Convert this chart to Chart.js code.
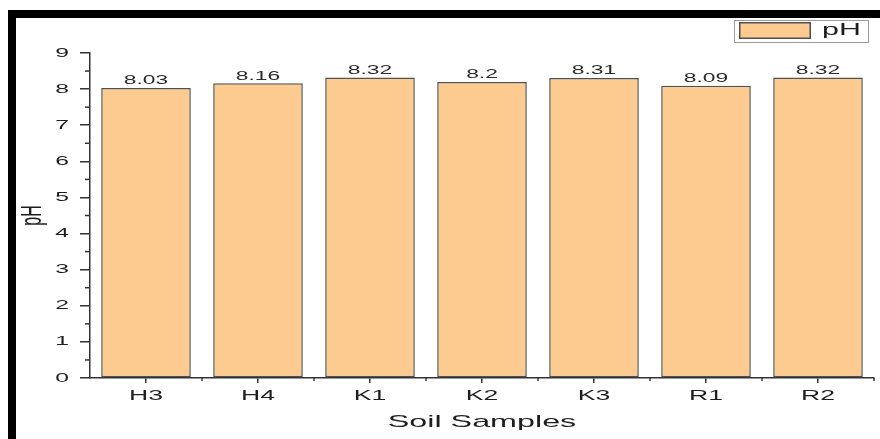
<!DOCTYPE html>
<html>
<head>
<meta charset="utf-8">
<script src="https://cdn.jsdelivr.net/npm/chart.js@4/dist/chart.umd.min.js"></script>
<style>
  html, body { margin: 0; padding: 0; background: #ffffff; }
  #wrap { width: 880px; height: 439px; position: relative; }
</style>
</head>
<body>
<div id="wrap"><canvas id="c" width="880" height="439"></canvas></div>
<script>
const categories = ["H3", "H4", "K1", "K2", "K3", "R1", "R2"];
const phValues = [8.03, 8.16, 8.32, 8.2, 8.31, 8.09, 8.32];
const seriesLabel = "pH";
const yTicks = [0, 1, 2, 3, 4, 5, 6, 7, 8, 9];
const xTitle = "Soil Samples";
const yTitle = "pH";

const FONT = "'Liberation Sans', Arial, sans-serif";
const BAR_FILL = "#FDCB90";
const BAR_EDGE = "#505050";
const AXIS = "#333333";
const TEXT = "#1e1e1e";
const SX = 1.9; // the reference picture is stretched horizontally

const canvas = document.getElementById("c");
const ctx2d = canvas.getContext("2d");
const origFill = ctx2d.fillText.bind(ctx2d);
ctx2d.fillText = function (t, x, y, w) {
  const M = this.getTransform();
  const p = M.transformPoint(new DOMPoint(x, y));
  this.save();
  const T = new DOMMatrix().translate(p.x, p.y).scale(SX, 1).translate(-p.x, -p.y).multiply(M);
  this.setTransform(T);
  if (w === undefined || w === null) origFill(t, x, y); else origFill(t, x, y, w);
  this.restore();
};

const decor = {
  id: "decor",
  beforeDraw(chart) {
    const ctx = chart.ctx;
    ctx.save();
    ctx.fillStyle = "#ffffff";
    ctx.fillRect(0, 0, chart.width, chart.height);
    ctx.fillStyle = "#000000";
    ctx.fillRect(8, 10, chart.width - 8, 8);
    ctx.fillRect(8, 10, 8, chart.height - 10);
    ctx.restore();
  },
  afterDraw(chart) {
    const ctx = chart.ctx;
    const ys = chart.scales.y;
    const area = chart.chartArea;
    ctx.save();
    // minor y ticks
    ctx.strokeStyle = AXIS;
    ctx.lineWidth = 1.5;
    for (let i = 0; i < yTicks.length - 1; i++) {
      const v = (yTicks[i] + yTicks[i + 1]) / 2;
      const py = ys.getPixelForValue(v);
      ctx.beginPath();
      ctx.moveTo(area.left - 5, py);
      ctx.lineTo(area.left, py);
      ctx.stroke();
    }
    // minor x ticks at category boundaries
    const step = (area.right - area.left) / categories.length;
    for (let i = 1; i <= categories.length; i++) {
      const px = area.left + step * i;
      ctx.beginPath();
      ctx.moveTo(px, area.bottom);
      ctx.lineTo(px, area.bottom + 3);
      ctx.stroke();
    }
    // value labels
    const meta = chart.getDatasetMeta(0);
    ctx.fillStyle = "#2a2a2a";
    ctx.font = "12px " + FONT;
    ctx.textAlign = "center";
    ctx.textBaseline = "bottom";
    meta.data.forEach((bar, i) => {
      ctx.fillText(String(phValues[i]), bar.x, bar.y - 1);
    });
    // legend
    const ds = chart.data.datasets[0];
    ctx.strokeStyle = "#9a9a9a";
    ctx.lineWidth = 1;
    ctx.strokeRect(734.5, 20.5, 134, 22);
    ctx.fillStyle = ds.backgroundColor;
    ctx.fillRect(739, 22, 72, 17);
    ctx.strokeStyle = BAR_EDGE;
    ctx.lineWidth = 1.5;
    ctx.strokeRect(739.75, 22.75, 70.5, 15.5);
    ctx.fillStyle = TEXT;
    ctx.font = "16px " + FONT;
    ctx.textAlign = "left";
    ctx.textBaseline = "middle";
    ctx.fillText(ds.label, 822, 31);
    ctx.restore();
  }
};

new Chart(canvas, {
  type: "bar",
  data: {
    labels: categories,
    datasets: [{
      label: seriesLabel,
      data: phValues,
      backgroundColor: BAR_FILL,
      borderColor: BAR_EDGE,
      borderWidth: 1.5,
      borderSkipped: false,
      barPercentage: 0.8,
      categoryPercentage: 1.0
    }]
  },
  options: {
    responsive: false,
    animation: false,
    devicePixelRatio: 1,
    layout: { padding: { left: 0, right: 6, top: 53, bottom: 0 } },
    plugins: {
      legend: { display: false },
      tooltip: { enabled: false },
      title: { display: false }
    },
    scales: {
      x: {
        offset: true,
        grid: {
          display: true, offset: false, drawOnChartArea: false, drawTicks: true,
          tickLength: 5, color: AXIS, lineWidth: 1.5
        },
        border: { display: true, color: AXIS, width: 1.5 },
        ticks: { color: TEXT, font: { family: FONT, size: 14 }, padding: 5, autoSkip: false, maxRotation: 0 },
        title: {
          display: true, text: xTitle, color: TEXT,
          font: { family: FONT, size: 17 }, padding: { top: 0, bottom: 6 }
        },
        afterFit(s) { s.height = 61; }
      },
      y: {
        min: 0, max: 9,
        afterBuildTicks(s) { s.ticks = yTicks.map(v => ({ value: v })); },
        grid: {
          display: true, drawOnChartArea: false, drawTicks: true,
          tickLength: 10, color: AXIS, lineWidth: 1.5
        },
        border: { display: true, color: AXIS, width: 1.5 },
        ticks: { color: TEXT, font: { family: FONT, size: 13 }, padding: 11 },
        title: {
          display: true, text: yTitle, color: TEXT,
          font: { family: FONT, size: 16 }, padding: { top: 23, bottom: 0 }
        },
        afterFit(s) { s.width = 90; }
      }
    }
  },
  plugins: [decor]
});
</script>
</body>
</html>
